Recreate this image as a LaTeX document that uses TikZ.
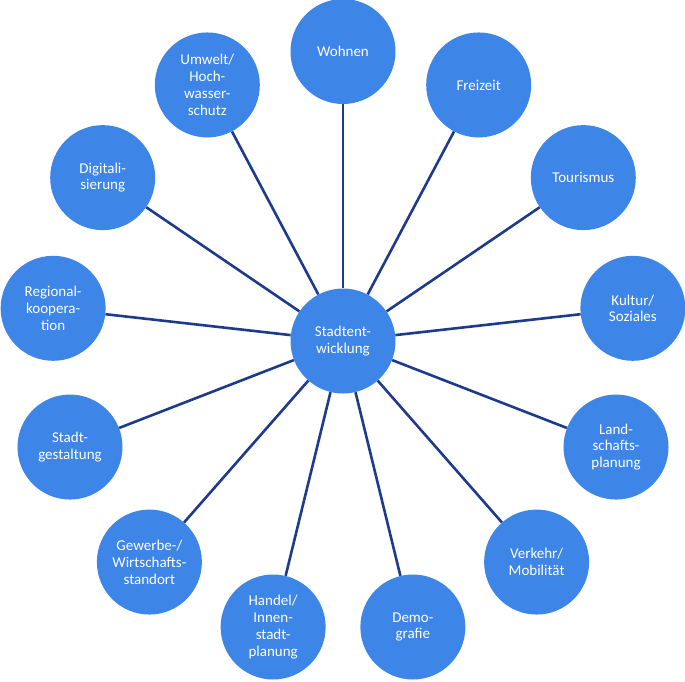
\documentclass[tikz,border=0pt]{standalone}
\usepackage{fontspec}
\setmainfont{Carlito}
\usetikzlibrary{calc}
\definecolor{circfill}{RGB}{61,133,230}
\definecolor{spoke}{RGB}{30,58,140}
\begin{document}
\begin{tikzpicture}[x=1pt,y=-1pt,
  bubble/.style={circle,fill=circfill,minimum size=105pt,inner sep=0pt,
    text=white,align=center,font=\fontsize{15}{16.8}\selectfont},
  spokeline/.style={draw=spoke,line width=2.6pt}]
\useasboundingbox (0,0) rectangle (685,682);
\node[bubble] (c) at (343,341) {Stadtent-\\wicklung};
\def\R{292}
\foreach \name/\txt [count=\i from 0] in {
  wo/{Wohnen},
  fr/{Freizeit},
  to/{Tourismus},
  ku/{Kultur/\\Soziales},
  la/{Land-\\schafts-\\planung},
  ve/{Verkehr/\\Mobilität},
  de/{Demo-\\grafie},
  ha/{Handel/\\Innen-\\stadt-\\planung},
  ge/{Gewerbe-/\\Wirtschafts-\\standort},
  st/{Stadt-\\gestaltung},
  re/{Regional-\\koopera-\\tion},
  di/{Digitali-\\sierung},
  um/{Umwelt/\\Hoch-\\wasser-\\schutz}}
{
  \pgfmathsetmacro{\ang}{90-\i*360/13}
  \node[bubble] (\name) at ($(343,343.5)+({\R*cos(\ang)},{-\R*sin(\ang)})$) {\txt};
  \draw[spokeline] (c) -- (\name);
}
\end{tikzpicture}
\end{document}
